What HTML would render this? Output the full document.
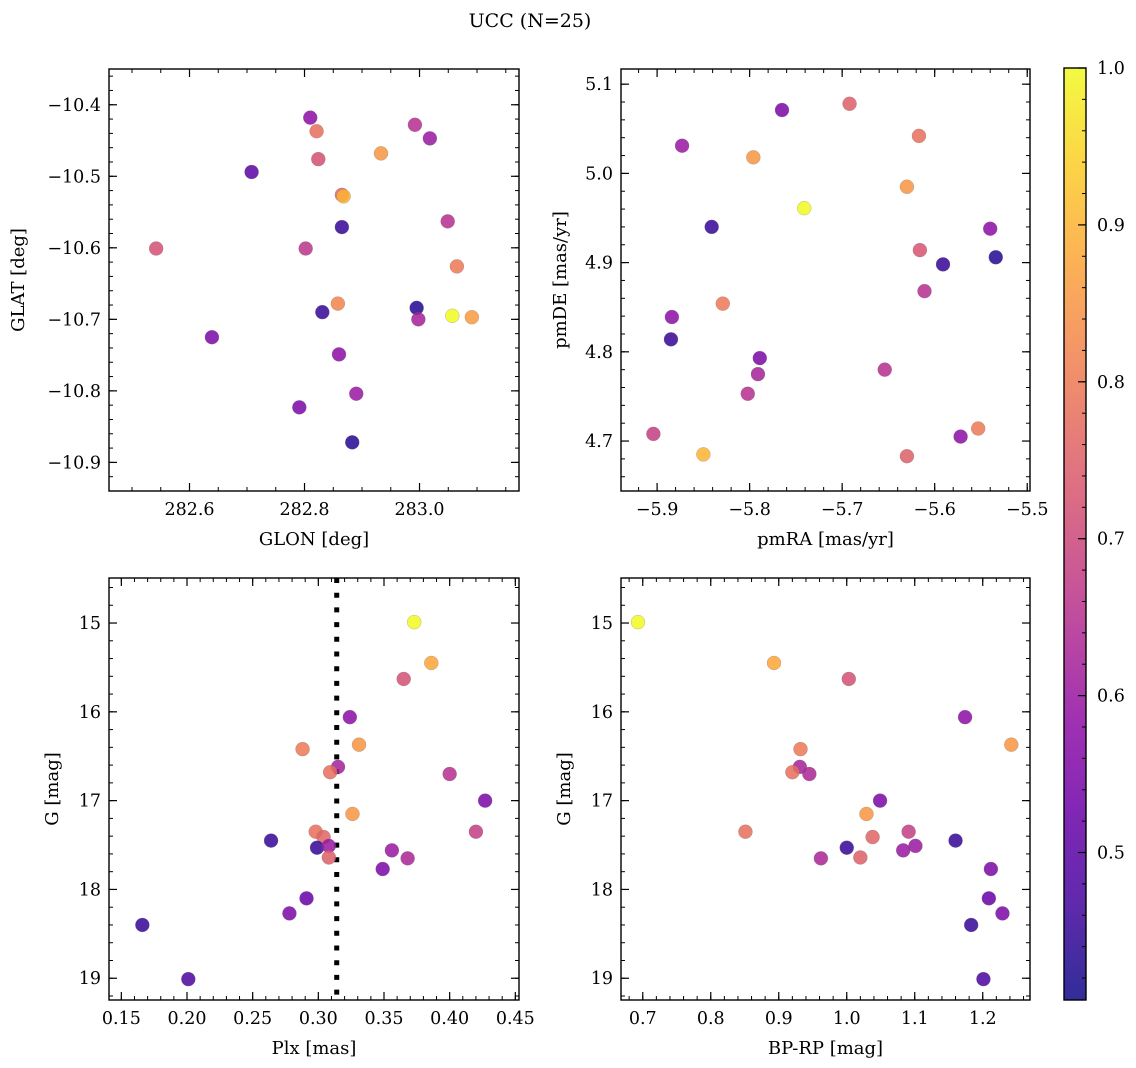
<!DOCTYPE html>
<html><head><meta charset="utf-8">
<style>
html,body{margin:0;padding:0;background:#fff;}
svg{display:block;font-family:"DejaVu Serif","Liberation Serif",serif;}
</style></head>
<body>
<svg id="fig" width="1136" height="1068" viewBox="0 0 1136 1068" xmlns="http://www.w3.org/2000/svg">
<rect width="1136" height="1068" fill="#fff"/>
<text x="530" y="27" font-size="19" text-anchor="middle">UCC (N=25)</text>
<defs>
<linearGradient id="plasma" x1="0" y1="1" x2="0" y2="0"></linearGradient>
</defs>
</svg>
<script>
// ---- data ----
const p1_glon=[282.810,282.821,282.992,283.018,282.933,282.824,282.708,282.865,282.868,282.865,283.049,282.542,282.802,283.065,282.858,282.831,282.995,282.998,283.057,283.091,282.639,282.860,282.890,282.791,282.883];
const p1_glat=[-10.418,-10.437,-10.428,-10.447,-10.468,-10.476,-10.494,-10.526,-10.528,-10.571,-10.563,-10.601,-10.601,-10.626,-10.678,-10.690,-10.684,-10.700,-10.695,-10.697,-10.725,-10.749,-10.804,-10.823,-10.872];
const p1_prob=[0.58,0.78,0.65,0.60,0.85,0.72,0.50,0.76,0.90,0.45,0.65,0.72,0.66,0.80,0.82,0.45,0.43,0.62,1.0,0.86,0.55,0.58,0.60,0.55,0.43];

const p2_pmra=[-5.765,-5.692,-5.873,-5.796,-5.617,-5.630,-5.741,-5.841,-5.540,-5.616,-5.534,-5.591,-5.611,-5.829,-5.884,-5.885,-5.789,-5.791,-5.654,-5.802,-5.904,-5.572,-5.553,-5.850,-5.630];
const p2_pmde=[5.071,5.078,5.031,5.018,5.042,4.985,4.961,4.940,4.938,4.914,4.906,4.898,4.868,4.854,4.839,4.814,4.793,4.775,4.780,4.753,4.708,4.705,4.714,4.685,4.683];
const p2_prob=[0.55,0.75,0.60,0.85,0.78,0.85,1.0,0.45,0.58,0.73,0.43,0.45,0.65,0.80,0.58,0.45,0.55,0.62,0.65,0.65,0.68,0.58,0.80,0.90,0.75];

const p3_plx=[0.373,0.386,0.365,0.324,0.288,0.331,0.315,0.309,0.400,0.427,0.326,0.298,0.420,0.304,0.264,0.299,0.308,0.308,0.356,0.368,0.349,0.291,0.278,0.166,0.201];
const p3_g=[14.99,15.45,15.63,16.06,16.42,16.37,16.62,16.68,16.70,17.00,17.15,17.35,17.35,17.41,17.45,17.53,17.51,17.64,17.56,17.65,17.77,18.10,18.27,18.40,19.01];
const p3_prob=[1.0,0.88,0.72,0.58,0.80,0.85,0.62,0.78,0.65,0.55,0.85,0.78,0.68,0.76,0.45,0.45,0.60,0.75,0.60,0.63,0.55,0.52,0.55,0.45,0.48];
const p3_plxLine=[0.314];

const p4_bprp=[0.693,0.893,1.003,1.174,1.242,0.932,0.931,0.920,0.945,1.049,1.029,0.851,1.091,1.038,1.160,1.000,1.101,1.083,1.020,0.962,1.212,1.209,1.229,1.183,1.201];
const p4_g=[14.99,15.45,15.63,16.06,16.37,16.42,16.62,16.68,16.70,17.00,17.15,17.35,17.35,17.41,17.45,17.53,17.51,17.56,17.64,17.65,17.77,18.10,18.27,18.40,19.01];
const p4_prob=[1.0,0.88,0.72,0.58,0.85,0.80,0.62,0.78,0.63,0.55,0.85,0.78,0.68,0.76,0.45,0.45,0.60,0.60,0.75,0.63,0.55,0.52,0.55,0.45,0.48];

const cb_min=0.406, cb_max=1.0;
const cb_ticks=[0.5,0.6,0.7,0.8,0.9,1.0];

// ---- helpers ----
const NS="http://www.w3.org/2000/svg";
const svg=document.getElementById('fig');
function mk(tag,attrs,parent){const e=document.createElementNS(NS,tag);for(const k in attrs)e.setAttribute(k,attrs[k]);(parent||svg).appendChild(e);return e;}
const stops=[[0,[13,8,135]],[0.1,[65,4,157]],[0.2,[106,0,168]],[0.3,[143,13,164]],[0.4,[177,42,144]],[0.5,[204,71,120]],[0.6,[225,100,98]],[0.7,[242,132,75]],[0.8,[252,166,54]],[0.9,[252,206,37]],[1,[240,249,33]]];
function plasma(t){t=Math.max(0,Math.min(1,t));for(let i=1;i<stops.length;i++){if(t<=stops[i][0]){const a=stops[i-1],b=stops[i];const f=(t-a[0])/(b[0]-a[0]);const c=a[1].map((v,j)=>Math.round(v+(b[1][j]-v)*f));return `rgb(${c[0]},${c[1]},${c[2]})`;}}return 'rgb(240,249,33)';}
function cmap(p){return plasma((p-cb_min)/(cb_max-cb_min));}
function fmt(v,dec){let s=v.toFixed(dec);if(v<0)s='\u2212'+s.slice(1);return s;}
function tickList(a,b,step){const out=[];const s=Math.ceil(a/step-1e-6);for(let i=s;i*step<=b+1e-9;i++)out.push(+(i*step).toFixed(6));return out;}
const TF=17.5, AF=18;

function panel(o){
  const g=mk('g',{});
  
  
  const X=v=>o.L+(v-o.x0)/(o.x1-o.x0)*(o.R-o.L);
  const Y=v=>o.yInv? o.T+(v-o.y0)/(o.y1-o.y0)*(o.B-o.T) : o.B-(v-o.y0)/(o.y1-o.y0)*(o.B-o.T);
  const lo=Math.min(o.x0,o.x1),hi=Math.max(o.x0,o.x1);
  tickList(lo,hi,o.xmin).forEach(v=>{const x=X(v);mk('line',{x1:x,x2:x,y1:o.B,y2:o.B-4,stroke:'#000','stroke-width':1},g);mk('line',{x1:x,x2:x,y1:o.T,y2:o.T+4,stroke:'#000','stroke-width':1},g);});
  tickList(lo,hi,o.xmaj).forEach(v=>{const x=X(v);mk('line',{x1:x,x2:x,y1:o.B,y2:o.B-8,stroke:'#000','stroke-width':1.2},g);mk('line',{x1:x,x2:x,y1:o.T,y2:o.T+8,stroke:'#000','stroke-width':1.2},g);
    const t=mk('text',{x:x,y:o.B+24,'font-size':TF,'text-anchor':'middle'},g);t.textContent=fmt(v,o.xdec);});
  const ylo=Math.min(o.y0,o.y1),yhi=Math.max(o.y0,o.y1);
  tickList(ylo,yhi,o.ymin).forEach(v=>{const y=Y(v);mk('line',{x1:o.L,x2:o.L+4,y1:y,y2:y,stroke:'#000','stroke-width':1},g);mk('line',{x1:o.R,x2:o.R-4,y1:y,y2:y,stroke:'#000','stroke-width':1},g);});
  tickList(ylo,yhi,o.ymaj).forEach(v=>{const y=Y(v);mk('line',{x1:o.L,x2:o.L+8,y1:y,y2:y,stroke:'#000','stroke-width':1.2},g);mk('line',{x1:o.R,x2:o.R-8,y1:y,y2:y,stroke:'#000','stroke-width':1.2},g);
    const t=mk('text',{x:o.L-8,y:y+6,'font-size':TF,'text-anchor':'end'},g);t.textContent=fmt(v,o.ydec);});
  if(o.vline!==undefined){const l=mk('line',{x1:X(o.vline),x2:X(o.vline),y1:o.T,y2:o.B,stroke:'#000','stroke-width':5,'stroke-dasharray':'5 9.7'},g);}
  o.xs.forEach((v,i)=>{const c=mk('circle',{cx:X(v),cy:Y(o.ys[i]),r:7,fill:cmap(o.ps[i]),'fill-opacity':0.85,stroke:'#777','stroke-width':0.4,'stroke-opacity':0.6},g);
    
    });
  mk('rect',{x:o.L,y:o.T,width:o.R-o.L,height:o.B-o.T,fill:'none',stroke:'#000','stroke-width':1.4},g);
  const xl=mk('text',{x:(o.L+o.R)/2,y:o.B+54,'font-size':AF,'text-anchor':'middle'},g);xl.textContent=o.xlabel;
  
  const yx=o.ylx,yy=(o.T+o.B)/2;
  const yl=mk('text',{x:yx,y:yy,'font-size':AF,'text-anchor':'middle',transform:`rotate(-90 ${yx} ${yy})`},g);yl.textContent=o.ylabel;
  
}

panel({name:'glon-glat-panel',L:109,R:519,T:69,B:491,x0:282.460,x1:283.173,y0:-10.940,y1:-10.350,xmaj:0.2,xmin:0.05,ymaj:0.1,ymin:0.02,xdec:1,ydec:1,xs:p1_glon,ys:p1_glat,ps:p1_prob,xlabel:'GLON [deg]',ylabel:'GLAT [deg]',ylx:24});
panel({name:'pm-panel',L:621,R:1030,T:69,B:491,x0:-5.939,x1:-5.497,y0:4.644,y1:5.117,xmaj:0.1,xmin:0.02,ymaj:0.1,ymin:0.02,xdec:1,ydec:1,xs:p2_pmra,ys:p2_pmde,ps:p2_prob,xlabel:'pmRA [mas/yr]',ylabel:'pmDE [mas/yr]',ylx:566});
panel({name:'plx-g-panel',L:109,R:519,T:578,B:1000,x0:0.1406,x1:0.4528,y0:14.493,y1:19.245,yInv:true,xmaj:0.05,xmin:0.01,ymaj:1,ymin:0.2,xdec:2,ydec:0,xs:p3_plx,ys:p3_g,ps:p3_prob,vline:p3_plxLine[0],xlabel:'Plx [mas]',ylabel:'G [mag]',ylx:58});
panel({name:'cmd-panel',L:621,R:1030,T:578,B:1000,x0:0.668,x1:1.2695,y0:14.493,y1:19.245,yInv:true,xmaj:0.1,xmin:0.02,ymaj:1,ymin:0.2,xdec:1,ydec:0,xs:p4_bprp,ys:p4_g,ps:p4_prob,xlabel:'BP-RP [mag]',ylabel:'G [mag]',ylx:570});

// ---- colorbar ----
const grad=document.getElementById('plasma');
for(let i=0;i<=20;i++){const s=mk('stop',{offset:(i/20),'stop-color':plasma(i/20),'stop-opacity':0.85},grad);}
const cb=mk('g',{});


const CL=1064,CR=1086,CT=68,CB=1000;
mk('rect',{x:CL,y:CT,width:CR-CL,height:CB-CT,fill:'url(#plasma)'},cb);
const CY=v=>CB-(v-cb_min)/(cb_max-cb_min)*(CB-CT);
tickList(cb_min,cb_max,0.02).forEach(v=>{const y=CY(v);mk('line',{x1:CR,x2:CR-4,y1:y,y2:y,stroke:'#000','stroke-width':1},cb);});
cb_ticks.forEach(v=>{const y=CY(v);mk('line',{x1:CR,x2:CR-8,y1:y,y2:y,stroke:'#000','stroke-width':1.2},cb);
  const t=mk('text',{x:CR+11,y:y+6,'font-size':TF},cb);t.textContent=v.toFixed(1);
  });
mk('rect',{x:CL,y:CT,width:CR-CL,height:CB-CT,fill:'none',stroke:'#000','stroke-width':1.4},cb);
</script>
</body></html>
